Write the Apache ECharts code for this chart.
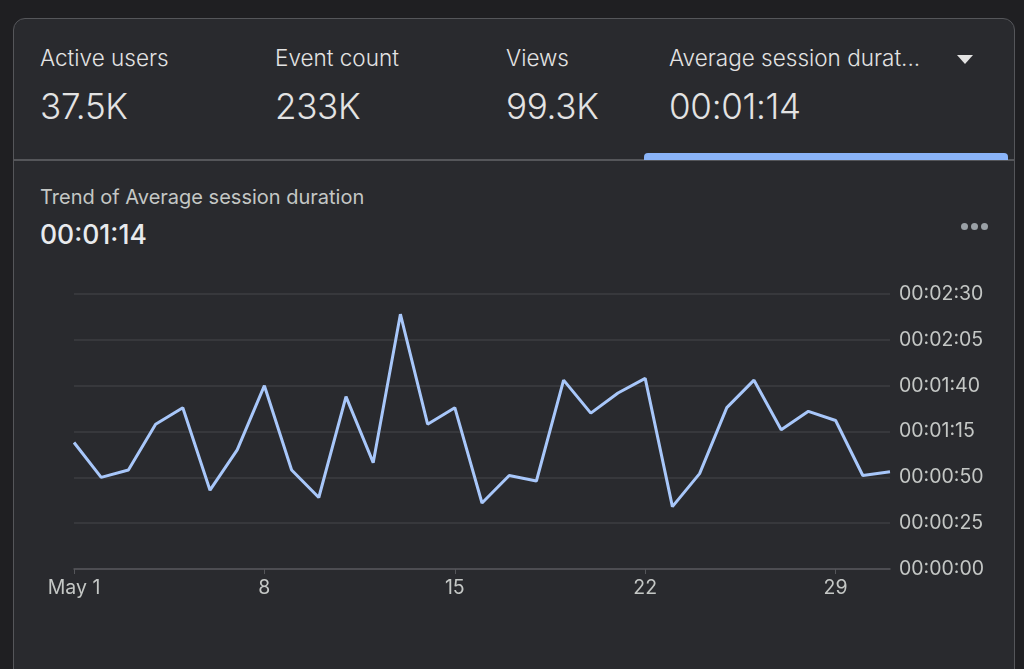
<!DOCTYPE html>
<html>
<head>
<meta charset="utf-8">
<script src="https://cdn.jsdelivr.net/npm/echarts@6/dist/echarts.min.js"></script>
<style>
  html, body { margin: 0; padding: 0; width: 1024px; height: 669px; overflow: hidden; background: #1f1f22; font-family: Inter, "Noto Sans", sans-serif; }
  .card { position: absolute; left: 13px; top: 18px; width: 1002px; height: 700px; background: #292a2e; border: 1.5px solid #55565a; border-radius: 12px; box-sizing: border-box; }
  .sep { position: absolute; left: 13px; top: 159px; width: 1002px; height: 1.5px; background: #55565a; }
  .tab { position: absolute; left: 644px; top: 153px; width: 364px; height: 7px; background: #8ab4f8; border-radius: 4px 4px 0 0; }
  .metric { position: absolute; top: 43px; color: #e3e3e3; }
  .metric .name { font-size: 22.5px; line-height: 30px; white-space: nowrap; font-weight: 350; }
  .metric .val { font-size: 35px; line-height: 40px; margin-top: 13px; letter-spacing: -0.3px; font-weight: 350; }
  .caret { position: absolute; left: 957px; top: 55px; width: 0; height: 0; border-left: 8px solid transparent; border-right: 8px solid transparent; border-top: 9px solid #e3e3e3; }
  .trend { position: absolute; left: 40px; top: 184px; color: #c4c7c5; font-size: 20px; line-height: 26px; }
  .trendval { position: absolute; left: 40px; top: 219px; color: #e8eaed; font-size: 26.5px; font-weight: 500; line-height: 30px; }
  .more { position: absolute; left: 961px; top: 214px; }
  .more span { display: inline-block; width: 7px; height: 7px; border-radius: 50%; background: #9aa0a6; margin-right: 3px; }
  #chart { position: absolute; left: 0; top: 0; width: 1024px; height: 669px; }
</style>
</head>
<body>
<div class="card"></div>
<div class="sep"></div>
<div class="tab"></div>
<div class="metric" style="left:40px"><div class="name">Active users</div><div class="val">37.5K</div></div>
<div class="metric" style="left:275px"><div class="name">Event count</div><div class="val">233K</div></div>
<div class="metric" style="left:506px"><div class="name">Views</div><div class="val">99.3K</div></div>
<div class="metric" style="left:669px"><div class="name">Average session durat...</div><div class="val">00:01:14</div></div>
<div class="caret"></div>
<div class="trend">Trend of Average session duration</div>
<div class="trendval">00:01:14</div>
<div class="more"><span></span><span></span><span></span></div>
<div id="chart"></div>
<script>
// days of May
const days = ["May 1", "2", "3", "4", "5", "6", "7", "8", "9", "10", "11", "12", "13", "14", "15",
  "16", "17", "18", "19", "20", "21", "22", "23", "24", "25", "26", "27", "28", "29", "30", "31"];

// average session duration per day, in seconds
const durations = [69, 50, 54, 79, 88, 43, 65, 100, 54, 39, 94, 58, 139, 79, 88,
  36, 51, 48, 103, 85, 96, 104, 34, 52, 88, 103, 76, 86, 81, 51, 53];

// y ticks every 25 s, 0..150
const yMin = 0;
const yMax = 150;
const yStep = 25;

function fmtDuration(sec) {
  const pad = (n) => String(n).padStart(2, "0");
  const h = Math.floor(sec / 3600);
  const m = Math.floor((sec % 3600) / 60);
  const s = sec % 60;
  return `${pad(h)}:${pad(m)}:${pad(s)}`;
}

const chart = echarts.init(document.getElementById("chart"), null, { renderer: "canvas" });

chart.setOption({
  backgroundColor: "transparent",
  animation: false,
  textStyle: { fontFamily: "Inter, 'Noto Sans', sans-serif" },
  grid: { left: 74, right: 134, top: 294, bottom: 100 },
  xAxis: {
    type: "category",
    data: days,
    boundaryGap: false,
    axisLine: { lineStyle: { color: "#55565a", width: 1.5 } },
    axisTick: { show: true, interval: 6, length: 5, lineStyle: { color: "#55565a" } },
    axisLabel: { interval: 6, color: "#c4c7c5", fontSize: 19.5, margin: 9 },
    splitLine: { show: false }
  },
  yAxis: {
    type: "value",
    position: "right",
    min: yMin,
    max: yMax,
    interval: yStep,
    axisLine: { show: false },
    axisTick: { show: false },
    axisLabel: { color: "#c4c7c5", fontSize: 19.5, margin: 9, padding: [3, 0, 0, 0], formatter: fmtDuration },
    splitLine: { lineStyle: { color: "#3d3e42", width: 1.5 } }
  },
  series: [{
    type: "line",
    data: durations,
    showSymbol: false,
    lineStyle: { color: "#a8c7fa", width: 3 },
    itemStyle: { color: "#a8c7fa" }
  }]
});
</script>
</body>
</html>
